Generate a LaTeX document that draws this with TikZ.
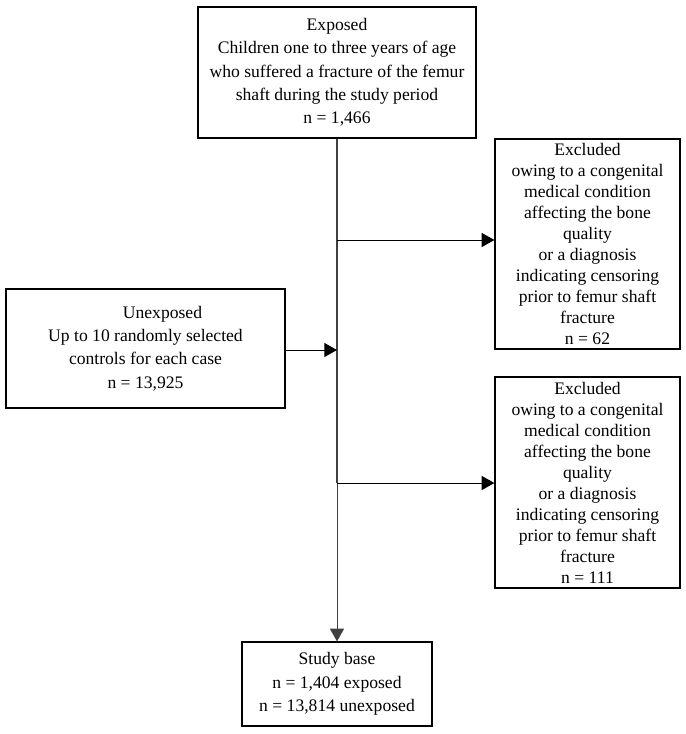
\documentclass[tikz,border=0pt]{standalone}
\usepackage{fontspec}
\setmainfont{Liberation Serif}
\usetikzlibrary{arrows.meta,positioning}

\tikzset{
  flowbox/.style={draw, line width=0.9pt, align=center, inner sep=0pt,
    font=\fontsize{13.2}{17.5}\selectfont},
  exclbox/.style={flowbox, font=\fontsize{13.2}{15.75}\selectfont},
  flowline/.style={line width=0.9pt, draw=black!75},
  flowarrow/.style={-{Triangle[length=9.5pt,width=10.5pt]}, line width=0.75pt}
}

\begin{document}
\begin{tikzpicture}[x=0.75pt,y=-0.75pt]
  \useasboundingbox (0,0) rectangle (685,734);

  \node[flowbox, minimum width=208.5pt, minimum height=98.25pt] (exposed) at (337,72.5)
    {Exposed\\Children one to three years of age\\who suffered a fracture of the femur\\shaft during the study period\\n = 1,466};
  \node[flowbox, minimum width=209.25pt, minimum height=89.25pt] (unexposed) at (145.5,348.5)
    {\hspace*{25.5pt}Unexposed\\Up to 10 randomly selected\\controls for each case\\n = 13,925};
  \node[exclbox, minimum width=138.75pt, minimum height=157.5pt] (exclone) at (587.5,244)
    {Excluded\\owing to a congenital\\medical condition\\affecting the bone\\quality\\or a diagnosis\\indicating censoring\\prior to femur shaft\\fracture\\n = 62};
  \node[exclbox, minimum width=138.75pt, minimum height=158.25pt] (excltwo) at (587.5,482.5)
    {Excluded\\owing to a congenital\\medical condition\\affecting the bone\\quality\\or a diagnosis\\indicating censoring\\prior to femur shaft\\fracture\\n = 111};
  \node[flowbox, minimum width=142.5pt, minimum height=63pt] (study) at (337,684)
    {Study base\\n = 1,404 exposed\\n = 13,814 unexposed};

  \coordinate (jexclone) at (337,240);
  \coordinate (junexp) at (337,350);
  \coordinate (jexcltwo) at (337,483);

  % main stem
  \draw[flowline] (exposed.south) -- (jexclone) -- (junexp) -- (jexcltwo);
  \draw[flowline, flowarrow] (jexcltwo) -- (study.north);

  % side branches
  \draw[flowarrow] (jexclone) -- (jexclone -| exclone.west);
  \draw[flowarrow] (jexcltwo) -- (jexcltwo -| excltwo.west);
  \draw[flowarrow] (unexposed.east |- junexp) -- (junexp);
\end{tikzpicture}
\end{document}
